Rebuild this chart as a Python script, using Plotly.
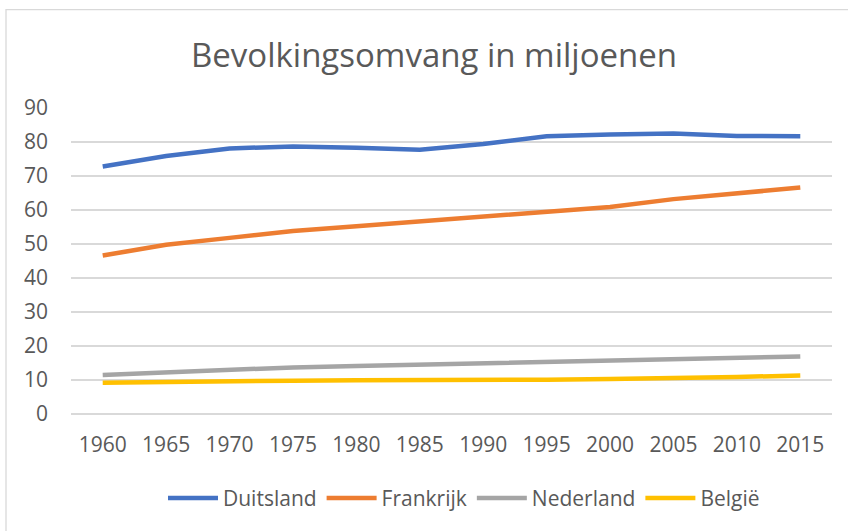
import plotly.graph_objects as go

# Bevolkingsomvang (miljoenen)
years = ["1960", "1965", "1970", "1975", "1980", "1985", "1990", "1995", "2000", "2005", "2010", "2015"]
duitsland = [72.8, 75.9, 78.1, 78.7, 78.3, 77.7, 79.4, 81.7, 82.2, 82.5, 81.8, 81.7]
frankrijk = [46.6, 49.8, 51.8, 53.8, 55.2, 56.7, 58.2, 59.5, 60.9, 63.2, 65.0, 66.6]
nederland = [11.5, 12.3, 13.0, 13.7, 14.1, 14.5, 15.0, 15.5, 15.9, 16.3, 16.6, 16.9]
belgie = [9.2, 9.5, 9.7, 9.8, 9.9, 9.9, 10.0, 10.1, 10.3, 10.5, 10.9, 11.3]

series = [
    ("Duitsland", duitsland, "#4472C4"),
    ("Frankrijk", frankrijk, "#ED7D31"),
    ("Nederland", nederland, "#A5A5A5"),
    ("België", belgie, "#FFC000"),
]

font = "Open Sans"
grey_text = "#595959"

# plot area in pixels
L, R, T, B = 71, 16, 108, 115
W, H = 848, 531
pw, ph = W - L - R, H - T - B

fig = go.Figure()
for name, values, color in series:
    fig.add_trace(
        go.Scatter(
            x=years,
            y=values,
            mode="lines",
            name=name,
            line=dict(color=color, width=4.5),
        )
    )

fig.update_layout(
    width=W,
    height=H,
    paper_bgcolor="white",
    plot_bgcolor="white",
    margin=dict(l=L, r=R, t=T, b=B),
    font=dict(family=font, color=grey_text),
    title=dict(
        text="Bevolkingsomvang in miljoenen",
        x=434 / W,
        xanchor="center",
        y=1 - 55 / H,
        yanchor="middle",
        font=dict(size=33, color=grey_text, family=font),
    ),
    xaxis=dict(
        type="category",
        range=[-0.5, 11.5],
        showgrid=False,
        showline=False,
        ticks="",
        tickfont=dict(size=21, color=grey_text),
        ticklabelstandoff=16,
    ),
    yaxis=dict(
        range=[0, 90],
        dtick=10,
        showgrid=True,
        gridcolor="#D9D9D9",
        gridwidth=1.5,
        zeroline=True,
        zerolinecolor="#D9D9D9",
        zerolinewidth=1.5,
        showline=False,
        ticks="",
        tickfont=dict(size=21, color=grey_text),
        ticklabelstandoff=22,
    ),
    legend=dict(
        orientation="h",
        x=(464 - L) / pw,
        xanchor="center",
        y=(H - B - 501) / ph,
        yanchor="middle",
        font=dict(size=21, color=grey_text),
        itemwidth=50,
        traceorder="normal",
    ),
    shapes=[
        dict(
            type="rect",
            xref="paper",
            yref="paper",
            x0=(6 - L) / pw,
            x1=(W + 20 - L) / pw,
            y0=(H - B - (H + 20)) / ph,
            y1=(H - B - 9) / ph,
            line=dict(color="#D9D9D9", width=1.3),
            layer="below",
        )
    ],
)

fig.write_html(
    "out.html",
    config={"displayModeBar": False},
    post_script="document.body.style.margin='0';",
)
